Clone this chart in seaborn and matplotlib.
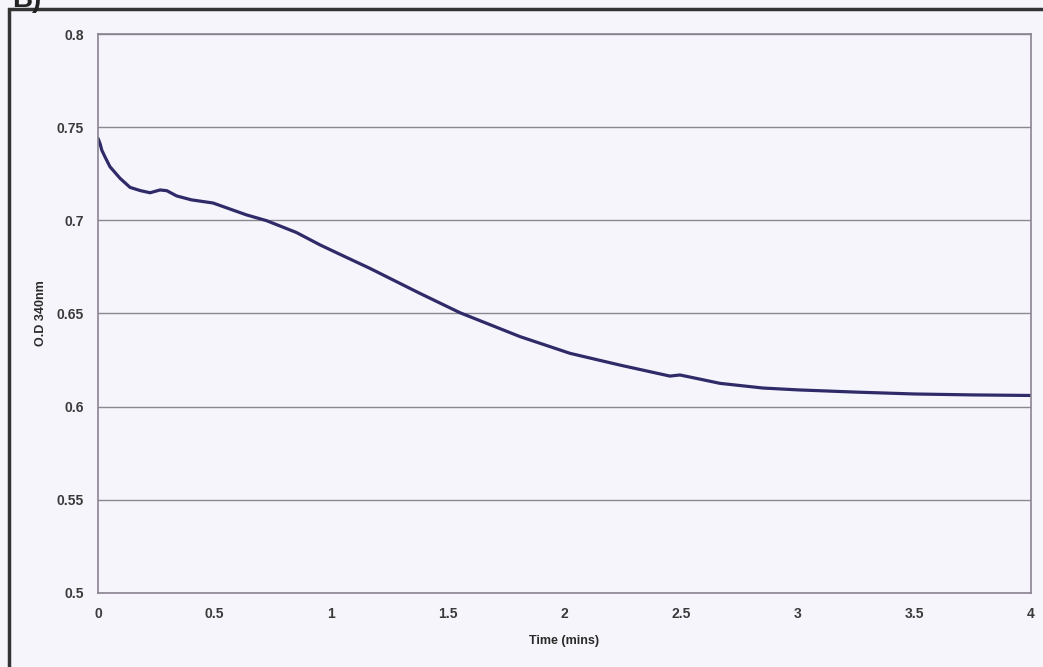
import matplotlib
matplotlib.use("Agg")
import matplotlib.pyplot as plt
import seaborn as sns
import pandas as pd
from matplotlib.patches import Rectangle

# Values
time_mins = [0, 0.009, 0.016, 0.03, 0.051, 0.094, 0.137, 0.18, 0.223, 0.266,
             0.295, 0.337, 0.4, 0.493, 0.637, 0.723, 0.85, 0.952, 1.05, 1.166,
             1.38, 1.552, 1.809, 2.024, 2.238, 2.452, 2.495, 2.667, 2.85, 3.0,
             3.25, 3.5, 3.75, 4.0]
od_340 = [0.744, 0.741, 0.7377, 0.734, 0.7288, 0.7226, 0.7177, 0.716, 0.7148, 0.7163,
          0.7159, 0.7131, 0.711, 0.7093, 0.7029, 0.6998, 0.6935, 0.6868, 0.681, 0.6742,
          0.6608, 0.6504, 0.6376, 0.6286, 0.6223, 0.6164, 0.617, 0.6125, 0.6100, 0.609,
          0.6078, 0.6068, 0.6063, 0.6060]
x_ticks = [0, 0.5, 1, 1.5, 2, 2.5, 3, 3.5, 4]
y_ticks = [0.5, 0.55, 0.6, 0.65, 0.7, 0.75, 0.8]

df = pd.DataFrame({"Time (mins)": time_mins, "O.D 340nm": od_340})

sns.set_theme(style="white")
plt.rcParams['font.family'] = ['Liberation Sans', 'DejaVu Sans']

bg = "#f6f5fc"
fig = plt.figure(figsize=(10.43, 6.67), dpi=100, facecolor=bg)
ax = fig.add_axes([0.094, 0.111, 0.8945, 0.838])
ax.set_facecolor(bg)

sns.lineplot(data=df, x="Time (mins)", y="O.D 340nm", ax=ax, color="#2f2b68",
             linewidth=2.3, sort=False, estimator=None)

ax.set_xlim(0, 4)
ax.set_ylim(0.5, 0.8)
ax.set_xticks(x_ticks)
ax.set_yticks(y_ticks)
ax.set_xticklabels([f"{v:g}" for v in x_ticks])
ax.set_yticklabels([f"{v:g}" for v in y_ticks])
ax.yaxis.grid(True, color="#8a8890", linewidth=1.0)
ax.set_axisbelow(True)
for s in ax.spines.values():
    s.set_color("#8a8490")
    s.set_linewidth(1.2)
ax.tick_params(axis="both", direction="out", length=4, width=1, color="#8a8490",
               labelsize=10, labelcolor="#3a3a3a", pad=6)
for lab in ax.get_xticklabels() + ax.get_yticklabels():
    lab.set_fontweight("bold")

ax.set_xlabel("Time (mins)", fontsize=9, fontweight="bold", color="#2a2a2a", labelpad=10)
ax.set_ylabel("O.D 340nm", fontsize=9, fontweight="bold", color="#2a2a2a", labelpad=7)

# outer chart frame (cut off at right and bottom like the scan)
fig.patches.append(Rectangle((9 / 1043, -0.05), 1.1, 1.05 - 9 / 667,
                             transform=fig.transFigure, fill=False,
                             edgecolor="#333333", linewidth=2.5))
fig.text(0.012, 1.0, "B)", fontsize=20, fontweight="bold", color="#222222",
         va="center", ha="left")

fig.savefig("out.png", dpi=100, facecolor=bg)
